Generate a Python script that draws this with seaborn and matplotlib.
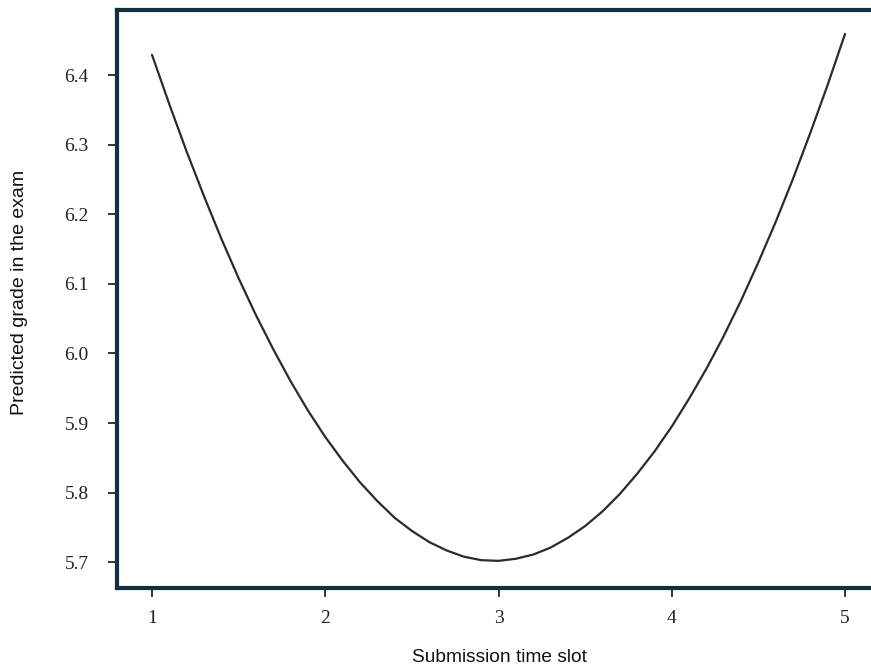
import matplotlib
matplotlib.use("Agg")
import matplotlib.pyplot as plt
import seaborn as sns
import pandas as pd

# Values
time_slot = [1.0, 1.1, 1.2, 1.3, 1.4, 1.5, 1.6, 1.7, 1.8, 1.9,
             2.0, 2.1, 2.2, 2.3, 2.4, 2.5, 2.6, 2.7, 2.8, 2.9,
             3.0, 3.1, 3.2, 3.3, 3.4, 3.5, 3.6, 3.7, 3.8, 3.9,
             4.0, 4.1, 4.2, 4.3, 4.4, 4.5, 4.6, 4.7, 4.8, 4.9, 5.0]
predicted_grade = [6.429, 6.358, 6.290, 6.226, 6.165, 6.108, 6.055, 6.006, 5.960, 5.918,
                   5.880, 5.846, 5.815, 5.788, 5.764, 5.745, 5.729, 5.717, 5.708, 5.703,
                   5.702, 5.705, 5.711, 5.721, 5.735, 5.752, 5.773, 5.798, 5.827, 5.859,
                   5.895, 5.935, 5.978, 6.025, 6.076, 6.131, 6.189, 6.251, 6.317, 6.386, 6.459]
x_ticks = [1, 2, 3, 4, 5]
y_ticks = [5.7, 5.8, 5.9, 6.0, 6.1, 6.2, 6.3, 6.4]
x_label = "Submission time slot"
y_label = "Predicted grade in the exam"

df = pd.DataFrame({"slot": time_slot, "grade": predicted_grade})

sns.set_style("white")
fig = plt.figure(figsize=(8.71, 6.68), dpi=100)
ax = fig.add_axes([117 / 871, 1 - 588 / 668, 1 - 117 / 871, (588 - 10) / 668])

sns.lineplot(data=df, x="slot", y="grade", ax=ax, color="#2b2b2b", linewidth=1.6)

ax.set_xlim(0.798, 5.150)
ax.set_ylim(5.663, 6.4934)
ax.set_xticks(x_ticks)
ax.set_xticklabels([str(t) for t in x_ticks])
ax.set_yticks(y_ticks)
ax.set_yticklabels([f"{t:.1f}" for t in y_ticks])

spine_color = "#12303f"
for side in ["left", "bottom", "top"]:
    ax.spines[side].set_visible(True)
    ax.spines[side].set_color(spine_color)
    ax.spines[side].set_linewidth(3.0)
ax.spines["right"].set_visible(False)

ax.tick_params(axis="both", which="major", direction="out", length=6.5, width=1.1,
               color="black", labelcolor="#222222", bottom=True, left=True)
ax.tick_params(axis="y", pad=14)
ax.tick_params(axis="x", pad=9)
for lab in ax.get_xticklabels() + ax.get_yticklabels():
    lab.set_fontfamily("Liberation Serif")
    lab.set_fontsize(14)

ax.set_xlabel("")
ax.set_ylabel("")
fig.text(499 / 871, 1 - 658 / 668, x_label, ha="center", va="center",
         fontsize=13.8, family="Liberation Sans", color="#111111")
fig.text(20 / 871, 1 - 292 / 668, y_label, ha="center", va="center", rotation=90,
         fontsize=14, family="Liberation Sans", color="#111111")

fig.savefig("out.png", dpi=100)
